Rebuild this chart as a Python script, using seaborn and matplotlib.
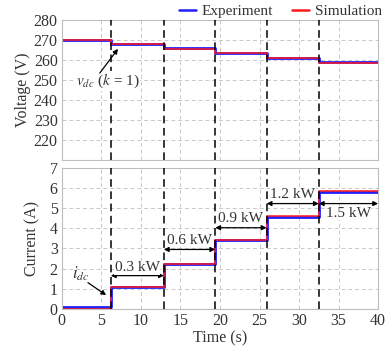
import numpy as np
import pandas as pd
import matplotlib
matplotlib.use("Agg")
import matplotlib.pyplot as plt
import seaborn as sns
from matplotlib.lines import Line2D

# Load-step instants (s) and the level held after each step
step_times = [0.0, 6.2, 12.9, 19.4, 25.9, 32.5, 40.0]
voltage_sim = [270.0, 268.0, 265.5, 263.3, 260.8, 258.7]
voltage_exp = [270.0, 268.2, 265.8, 263.5, 261.0, 258.9]
current_sim = [0.0, 1.1, 2.25, 3.43, 4.6, 5.83]
current_exp = [0.07, 1.08, 2.22, 3.40, 4.57, 5.80]
power_labels = ["0.3 kW", "0.6 kW", "0.9 kW", "1.2 kW", "1.5 kW"]
arrow_levels = [1.65, 2.95, 4.03, 5.23, 5.23]
label_levels = [2.05, 3.4, 4.5, 5.7, 4.75]

def stepped(levels):
    # repeat the last level so steps-post reaches the end of the time span
    return list(levels) + [levels[-1]]

df = pd.DataFrame({
    "t": step_times * 2,
    "voltage": stepped(voltage_exp) + stepped(voltage_sim),
    "current": stepped(current_exp) + stepped(current_sim),
    "source": ["Experiment"] * len(step_times) + ["Simulation"] * len(step_times),
})

sns.set_theme(style="whitegrid")
plt.rcParams["font.family"] = ["Liberation Serif", "DejaVu Serif"]
plt.rcParams["mathtext.fontset"] = "stix"

fig = plt.figure(figsize=(3.89, 3.47), dpi=100)
ax1 = fig.add_axes([0.159, 0.539, 0.813, 0.403])
ax2 = fig.add_axes([0.159, 0.110, 0.813, 0.406])

colors = {"Experiment": "#1f1fff", "Simulation": "#ff1a1a"}
widths = {"Experiment": 2.0, "Simulation": 1.1}
txt = "#333333"

for ax, col in [(ax1, "voltage"), (ax2, "current")]:
    for src in ["Experiment", "Simulation"]:
        sub = df[df["source"] == src]
        sns.lineplot(data=sub, x="t", y=col, ax=ax, color=colors[src],
                     lw=widths[src], drawstyle="steps-post", legend=False,
                     estimator=None, sort=False)

grid_kw = dict(color="#c8c8c8", linestyle=(0, (4, 3)), linewidth=0.7)
for ax in (ax1, ax2):
    ax.set_xlim(0, 40)
    ax.set_xticks(range(0, 41, 5))
    ax.grid(True, **grid_kw)
    ax.set_facecolor("white")
    for s in ax.spines.values():
        s.set_color("#bdbdbd")
        s.set_linewidth(0.8)
    ax.tick_params(labelsize=11.5, length=0, pad=3, colors=txt)
    for t in step_times[1:-1]:
        ax.axvline(t, color="black", lw=1.1, linestyle=(0, (5, 3)), zorder=5)

ax1.set_ylim(210, 280)
ax1.set_yticks(range(220, 281, 10))
ax1.set_xticklabels([])
ax1.set_xlabel("")
ax1.set_ylabel("Voltage (V)", fontsize=11.5, color=txt, labelpad=2)

ax2.set_ylim(0, 7)
ax2.set_yticks(range(0, 8))
ax2.set_xlabel("Time (s)", fontsize=11.5, color=txt, labelpad=1)
ax2.set_ylabel("Current (A)", fontsize=11.5, color=txt, labelpad=7)

arrow_kw = dict(color="black", lw=0.9, mutation_scale=7, shrinkA=0, shrinkB=0)

# power step annotations
for i, lab in enumerate(power_labels):
    t0, t1 = step_times[i + 1], step_times[i + 2]
    ax2.annotate("", xy=(t0, arrow_levels[i]), xytext=(t1, arrow_levels[i]),
                 arrowprops=dict(arrowstyle="<|-|>", **arrow_kw), zorder=6)
    ax2.text((t0 + t1) / 2, label_levels[i], lab, ha="center", va="center",
             fontsize=11, color=txt, zorder=7,
             bbox=dict(facecolor="white", edgecolor="none", pad=0.3))

# current trace label
ax2.text(2.4, 1.72, r"$i_{dc}$", fontsize=12, color=txt,
         ha="center", va="center", zorder=7)
ax2.annotate("", xy=(5.6, 0.68), xytext=(3.3, 1.3),
             arrowprops=dict(arrowstyle="-|>", **arrow_kw), zorder=7)

# voltage trace label
ax1.text(5.8, 249.5, r"$v_{dc}$ ($k$ = 1)", fontsize=11, color=txt,
         ha="center", va="center", zorder=7,
         bbox=dict(facecolor="white", edgecolor="none", pad=0.3))
ax1.annotate("", xy=(7.1, 265.6), xytext=(4.8, 253.5),
             arrowprops=dict(arrowstyle="-|>", **arrow_kw), zorder=7)

handles = [Line2D([], [], color=colors["Experiment"], lw=1.8),
           Line2D([], [], color=colors["Simulation"], lw=1.8)]
fig.legend(handles, ["Experiment", "Simulation"], loc="center right",
           bbox_to_anchor=(0.985, 0.968), ncol=2, frameon=False,
           fontsize=11, handlelength=1.1, handletextpad=0.35, columnspacing=1.3,
           labelcolor=txt, borderpad=0.1, borderaxespad=0.0)

fig.savefig("out.png", dpi=100)
